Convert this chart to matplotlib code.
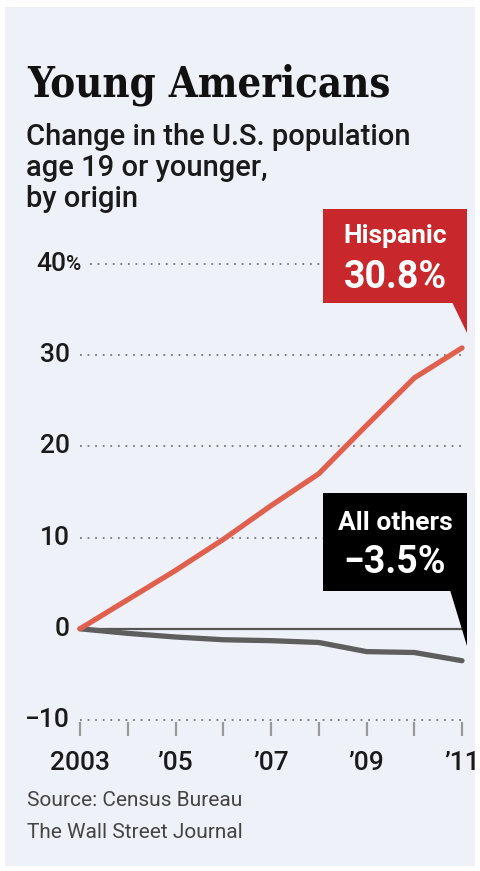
import matplotlib
matplotlib.use("Agg")
import matplotlib.pyplot as plt
from matplotlib.patches import Rectangle, Polygon

# data (percent change since 2003)
years = [2003, 2004, 2005, 2006, 2007, 2008, 2009, 2010, 2011]
hispanic = [0, 3.2, 6.4, 9.8, 13.5, 17.0, 22.3, 27.5, 30.8]
all_others = [0, -0.5, -0.9, -1.2, -1.3, -1.5, -2.5, -2.6, -3.5]
y_ticks = [-10, 0, 10, 20, 30, 40]
x_ticks = [2003, 2005, 2007, 2009, 2011]
x_labels = ["2003", "\u201905", "\u201907", "\u201909", "\u201911"]

W, H = 480, 871
BG = "#eef1f7"
RED_LINE = "#e0604f"
RED_BOX = "#c8282b"
GREY_LINE = "#5e5e5e"

fig = plt.figure(figsize=(W / 100, H / 100), dpi=100)
fig.patch.set_facecolor("white")


def fx(x):
    return x / W


def fy(y):
    return 1 - y / H


# light panel behind everything
fig.patches.append(Rectangle((fx(5), fy(866)), fx(470), 859 / H,
                             transform=fig.transFigure, facecolor=BG,
                             edgecolor="none", zorder=-10))

# axes placed so that 2003 -> x 80px, 2011 -> x 462px, -10 -> y 720px, 40 -> y 264px
px_year = (462 - 80) / 8
px_unit = (720 - 264) / 50
ax_l, ax_r, ax_t, ax_b = 60, 476, 250, 740
ax = fig.add_axes([fx(ax_l), fy(ax_b), (ax_r - ax_l) / W, (ax_b - ax_t) / H])
ax.set_facecolor("none")
ax.set_xlim(2003 - (80 - ax_l) / px_year, 2011 + (ax_r - 462) / px_year)
ax.set_ylim(-10 - (ax_b - 720) / px_unit, 40 + (264 - ax_t) / px_unit)
for s in ax.spines.values():
    s.set_visible(False)
ax.set_xticks([])
ax.set_yticks([])

num_font = dict(family=["Roboto", "DejaVu Sans"], fontweight="medium",
                color="#1a1a1a", fontsize=19)

# dotted gridlines
for v in y_ticks:
    if v == 0:
        continue
    x0 = 2003 + (10 / px_year if v == 40 else 0)
    ax.plot([x0, 2011], [v, v], color="#777777", lw=1.3,
            linestyle=(0, (1, 3.2)), zorder=1)

# bottom axis tick marks
for yr in years:
    ax.plot([yr, yr], [-10.2, -11.7], color="#999999", lw=1.6,
            solid_capstyle="butt", zorder=1, clip_on=False)

# zero line
ax.plot([2003, 2011], [0, 0], color="#555555", lw=1.6, zorder=2)

# series
ax.plot(years, all_others, color=GREY_LINE, lw=3.8, zorder=3,
        solid_capstyle="round", solid_joinstyle="round")
ax.plot(years, hispanic, color=RED_LINE, lw=3.8, zorder=4,
        solid_capstyle="round", solid_joinstyle="round")

# y labels
lab_x = 2003 - (80 - 70) / px_year
for v in y_ticks:
    if v == 40:
        ax.text(2003 - (80 - 66) / px_year, v, "40", ha="right", va="center",
                **num_font)
        ax.text(2003 - (80 - 66) / px_year, v, "%", ha="left", va="center",
                family=["Roboto", "DejaVu Sans"], fontweight="medium",
                color="#1a1a1a", fontsize=15)
    else:
        ax.text(lab_x, v, "\u2212" + str(abs(v)) if v < 0 else str(v),
                ha="right", va="center", **num_font)

# x labels
for yr, lab in zip(x_ticks, x_labels):
    ax.text(yr, -10 - (763 - 720) / px_unit, lab, ha="center", va="center",
            clip_on=False, **num_font)


def y_px(v):
    return 628 - v * px_unit


def callout(x_end, y_end, top_px, bot_px, tip_px, notch_px, color, line1, line2,
            l1_base, l2_base):
    # box anchored to the last data point
    right = x_end + (467 - 462) / px_year
    left = x_end - (462 - 323) / px_year
    top = y_end + (y_px(y_end) - top_px) / px_unit
    bot = y_end + (y_px(y_end) - bot_px) / px_unit
    tip = y_end + (y_px(y_end) - tip_px) / px_unit
    notch = right - (467 - notch_px) / px_year
    ax.add_patch(Rectangle((left, bot), right - left, top - bot, facecolor=color,
                           edgecolor="none", zorder=6, clip_on=False))
    ax.add_patch(Polygon([(notch, bot + 0.05), (right, bot + 0.05), (right, tip)],
                         closed=True, facecolor=color, edgecolor="none",
                         zorder=6, clip_on=False))
    cx = (left + right) / 2
    ax.text(cx, y_end + (y_px(y_end) - l1_base) / px_unit, line1, ha="center",
            va="baseline", color="white", fontsize=19, fontweight="bold",
            family=["Roboto", "DejaVu Sans"], zorder=7, clip_on=False)
    ax.text(cx, y_end + (y_px(y_end) - l2_base) / px_unit, line2, ha="center",
            va="baseline", color="white", fontsize=27, fontweight="bold",
            family=["Roboto", "DejaVu Sans"], zorder=7, clip_on=False)


callout(years[-1], hispanic[-1], 208, 302, 332, 452, RED_BOX, "Hispanic",
        f"{hispanic[-1]:.1f}%", 242, 287)
callout(years[-1], all_others[-1], 492, 590, 645, 450, "black", "All others",
        f"\u2212{abs(all_others[-1]):.1f}%", 529, 572)

# titles
fig.text(fx(27), fy(97), "Young Americans", ha="left", va="baseline",
         family=["DejaVu Serif"], fontweight="bold", fontstretch="condensed",
         fontsize=30, color="#111111")
sub = ["Change in the U.S. population", "age 19 or younger,", "by origin"]
for i, line in enumerate(sub):
    fig.text(fx(26), fy(145 + 31 * i), line, ha="left", va="baseline",
             family=["Roboto", "DejaVu Sans"], fontweight="medium",
             fontsize=21, color="#1a1a1a")

fig.text(fx(27), fy(806), "Source: Census Bureau", ha="left", va="baseline",
         family=["Roboto", "DejaVu Sans"], fontsize=15, color="#444444")
fig.text(fx(27), fy(838), "The Wall Street Journal", ha="left", va="baseline",
         family=["Roboto", "DejaVu Sans"], fontsize=15, color="#444444")

fig.savefig("out.png", dpi=100, facecolor=fig.get_facecolor())
